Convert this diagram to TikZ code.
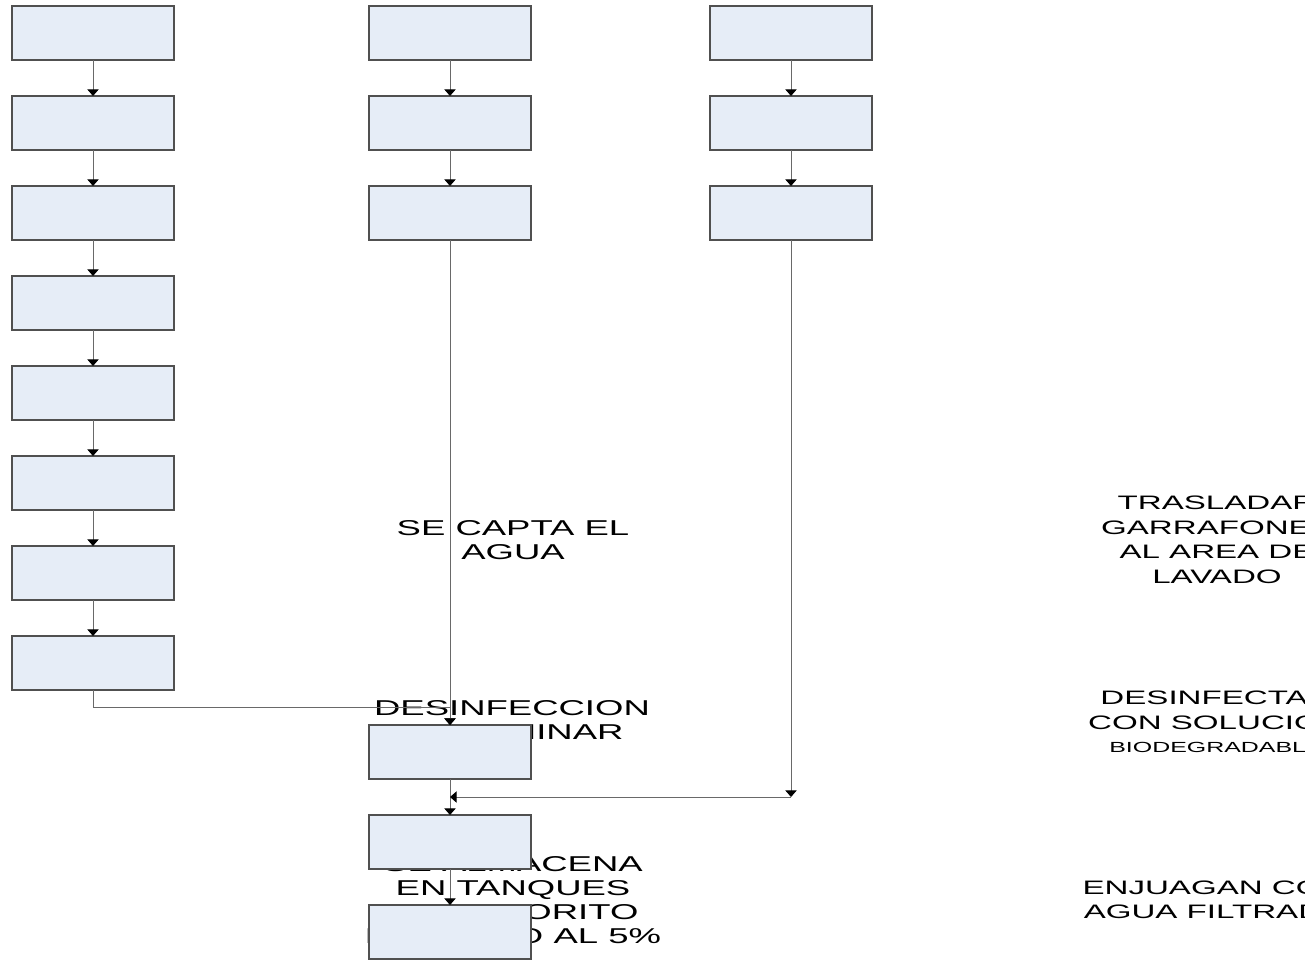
\documentclass[tikz,border=0pt]{standalone}
\usepackage{fontspec}
\newfontfamily\widefont[FakeStretch=1.7]{Liberation Sans}
\usetikzlibrary{arrows.meta,positioning}
\definecolor{boxfill}{RGB}{230,237,247}
\definecolor{boxline}{RGB}{80,80,80}
\definecolor{wire}{RGB}{105,105,105}

\begin{document}
\begin{tikzpicture}[
  x=0.75pt, y=-0.75pt,
  node distance=27pt,
  box/.style={draw=boxline, fill=boxfill, line width=0.8pt, minimum width=121.5pt, minimum height=40.5pt, inner sep=0pt, outer sep=0pt},
  note/.style={align=center, inner sep=0pt, font=\widefont\fontsize{16.1}{18}\selectfont},
  side/.style={note, font=\widefont\fontsize{14.6}{18.4}\selectfont},
  link/.style={draw=wire, line width=0.7pt, ->},
  >={Triangle[length=5pt, width=8.5pt, color=black]}
]
\useasboundingbox (0,0) rectangle (1305,961);
% texts behind the boxes
\node[note] (capta) at (513,540) {SE CAPTA EL\\AGUA};
\node[note] (prelim) at (512,720) {DESINFECCION\\PRELIMINAR};
\node[note] (almacena) at (513,900) {SE ALMACENA\\EN TANQUES\\HIPOCLORITO\\DE SODIO AL 5\%};
\node[side] (traslado) at (1217,540) {TRASLADAR\\GARRAFONES\\AL AREA DE\\LAVADO};
\node[side] (desinfecta) at (1216,722) {DESINFECTAN\\CON SOLUCION\\[-1pt]{\fontsize{11}{12}\selectfont BIODEGRADABLE}};
\node[side] (enjuaga) at (1214,900) {ENJUAGAN CON\\AGUA FILTRADA};
% left column
\node[box] (a1) at (93,33) {};
\node[box, below=of a1] (a2) {};
\node[box, below=of a2] (a3) {};
\node[box, below=of a3] (a4) {};
\node[box, below=of a4] (a5) {};
\node[box, below=of a5] (a6) {};
\node[box, below=of a6] (a7) {};
\node[box, below=of a7] (a8) {};
% middle column
\node[box] (b1) at (450,33) {};
\node[box, below=of b1] (b2) {};
\node[box, below=of b2] (b3) {};
\node[box] (b4) at (450,752) {};
\node[box, below=of b4] (b5) {};
\node[box, below=of b5] (b6) {};
% right column
\node[box] (c1) at (791,33) {};
\node[box, below=of c1] (c2) {};
\node[box, below=of c2] (c3) {};
\coordinate (join) at (791,797);

\draw[link] (a1) -- (a2);
\draw[link] (a2) -- (a3);
\draw[link] (a3) -- (a4);
\draw[link] (a4) -- (a5);
\draw[link] (a5) -- (a6);
\draw[link] (a6) -- (a7);
\draw[link] (a7) -- (a8);
\draw[link] (a8.south) -- ++(0,17) -| (b4.north);
\draw[link] (b1) -- (b2);
\draw[link] (b2) -- (b3);
\draw[link] (b3) -- (b4);
\draw[link] (b4) -- (b5);
\draw[link] (b5) -- (b6);
\draw[link] (c1) -- (c2);
\draw[link] (c2) -- (c3);
\draw[link] (c3) -- (join);
\draw[link] (join) -- (join -| b4);
\end{tikzpicture}
\end{document}
